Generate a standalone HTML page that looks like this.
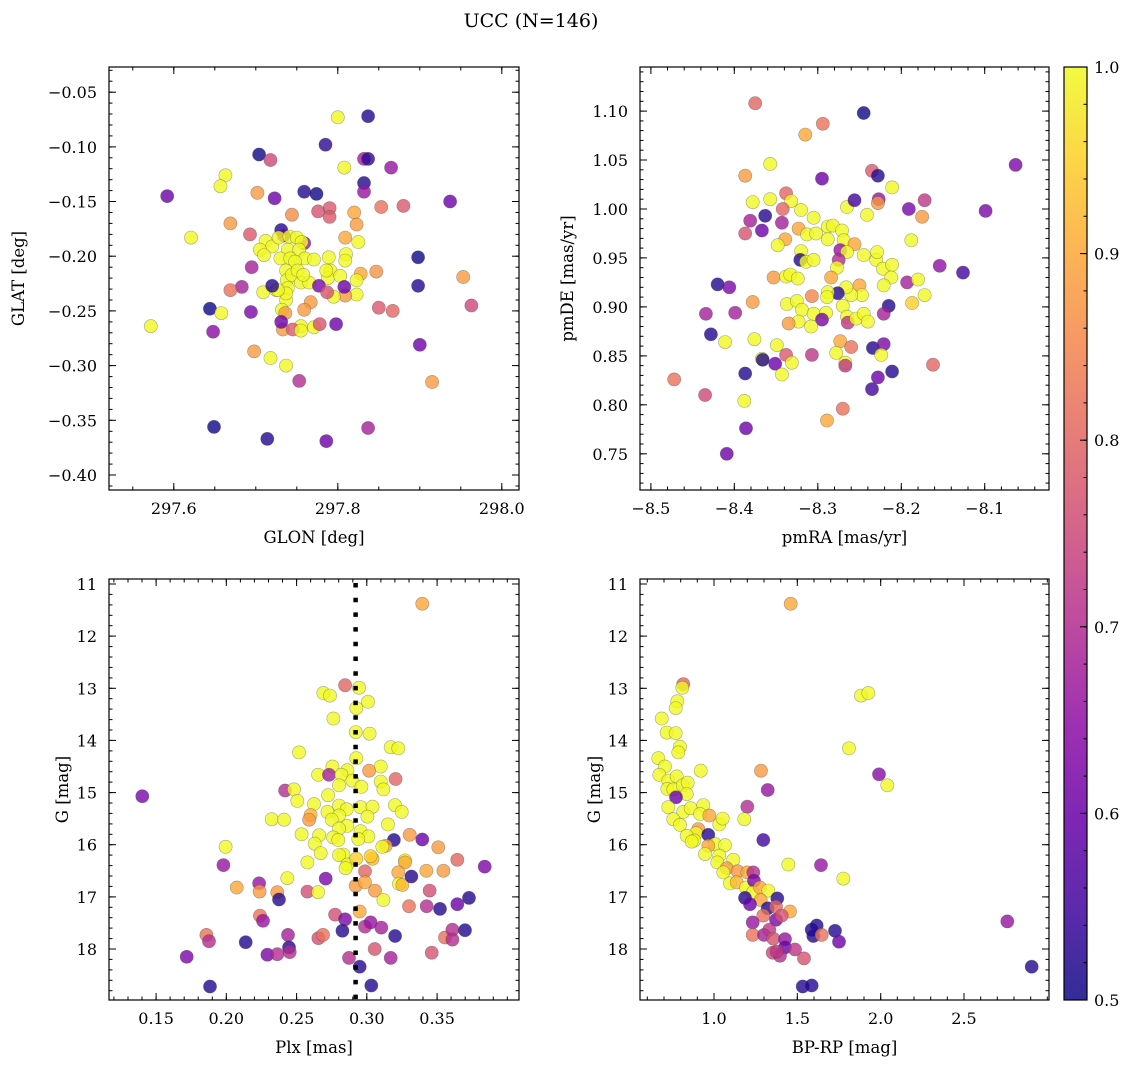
<!DOCTYPE html>
<html><head><meta charset="utf-8">
<style>
html,body{margin:0;padding:0;background:#fff;}
svg{display:block;font-family:"DejaVu Serif","Liberation Serif",serif;}
</style></head>
<body>
<svg id="fig" width="1136" height="1067" viewBox="0 0 1136 1067" xmlns="http://www.w3.org/2000/svg">
<defs>
<linearGradient id="plasma" x1="0" y1="1" x2="0" y2="0">
<stop offset="0" stop-color="#0d0887"/><stop offset="0.1" stop-color="#41049d"/><stop offset="0.2" stop-color="#6a00a8"/><stop offset="0.3" stop-color="#8f0da4"/><stop offset="0.4" stop-color="#b12a90"/><stop offset="0.5" stop-color="#cc4778"/><stop offset="0.6" stop-color="#e16462"/><stop offset="0.7" stop-color="#f2844b"/><stop offset="0.8" stop-color="#fca636"/><stop offset="0.9" stop-color="#fcce25"/><stop offset="1" stop-color="#f0f921"/>
</linearGradient>
</defs>
<text x="531" y="27" font-size="19" text-anchor="middle">UCC (N=146)</text>
<g id="colorbar">
<rect x="1064" y="67" width="23" height="933" fill="url(#plasma)" opacity="0.85"/>
<rect x="1064" y="67" width="23" height="933" fill="none" stroke="#000" stroke-width="1.2"/>
</g>
</svg>
<script>
// ---------- Panel 1: GLON vs GLAT ----------
const p1_glon = [297.800,297.837,297.785,297.704,297.718,297.832,297.837,297.808,297.865,297.832,297.832,297.663,297.657,297.592,297.702,297.723,297.759,297.774,297.937,297.853,297.880,297.790,297.790,297.744,297.820,297.823,297.776,297.669,297.621,297.693,297.731,297.734,297.759,297.809,297.825,
297.712,297.720,297.705,297.710,297.728,297.741,297.750,297.756,297.739,297.753,297.760,297.730,297.742,297.748,297.771,297.789,297.810,297.809,297.791,297.788,297.737,297.738,297.744,297.739,297.737,297.732,297.737,297.786,297.803,297.725,297.755,297.765,297.751,297.758,297.727,297.709,297.823,297.809,297.795,297.755,297.771,297.778,297.733,297.745,297.755,297.798,297.736,297.731,297.767,297.759,297.828,297.823,297.847,297.808,297.777,297.787,297.720,297.695,
297.683,297.669,297.644,297.658,297.694,297.648,297.698,297.718,297.737,297.753,297.915,297.867,297.850,297.898,297.898,297.953,297.963,297.900,297.649,297.714,297.786,297.837,297.572];
const p1_glat = [-0.073,-0.072,-0.098,-0.107,-0.112,-0.111,-0.111,-0.119,-0.119,-0.133,-0.141,-0.126,-0.136,-0.145,-0.142,-0.147,-0.141,-0.143,-0.150,-0.155,-0.154,-0.156,-0.164,-0.162,-0.160,-0.171,-0.159,-0.170,-0.183,-0.180,-0.176,-0.181,-0.188,-0.183,-0.187,
-0.186,-0.191,-0.194,-0.199,-0.183,-0.182,-0.183,-0.187,-0.194,-0.194,-0.202,-0.202,-0.202,-0.205,-0.203,-0.201,-0.198,-0.204,-0.213,-0.220,-0.213,-0.222,-0.217,-0.229,-0.240,-0.249,-0.234,-0.213,-0.218,-0.231,-0.224,-0.224,-0.213,-0.217,-0.231,-0.233,-0.235,-0.236,-0.237,-0.264,-0.265,-0.262,-0.267,-0.267,-0.268,-0.262,-0.252,-0.260,-0.242,-0.249,-0.216,-0.222,-0.214,-0.228,-0.227,-0.233,-0.227,-0.210,
-0.228,-0.231,-0.248,-0.252,-0.251,-0.269,-0.287,-0.293,-0.300,-0.314,-0.315,-0.250,-0.247,-0.201,-0.227,-0.219,-0.245,-0.281,-0.356,-0.367,-0.369,-0.357,-0.264];
const p1_prob = [1.0,0.52,0.53,0.5,0.75,0.68,0.53,1.0,0.66,0.52,0.66,1.0,1.0,0.6,0.88,0.6,0.52,0.5,0.6,0.82,0.78,0.78,0.78,0.86,0.9,0.88,0.77,0.88,1.0,0.78,0.52,0.6,0.66,0.9,1.0,
1,1,1,1,1,1,1,1,1,1,1,1,1,1,1,1,1,1,1,1,1,1,1,1,1,1,1,1,1,1,1,1,1,1,1,1,1,0.88,1,1,1,0.77,0.88,0.78,1,0.6,0.88,0.6,0.88,0.88,0.9,1,0.87,0.6,0.62,0.77,0.52,0.68,
0.68,0.82,0.5,1.0,0.62,0.64,0.88,1.0,1.0,0.7,0.88,0.8,0.78,0.5,0.52,0.88,0.75,0.6,0.5,0.52,0.6,0.68,1.0];

// ---------- Panel 2: pmRA vs pmDE ----------
const p2_pmra = [-8.375,-8.245,-8.294,-8.315,-8.063,-8.357,-8.387,-8.295,-8.235,-8.228,-8.211,-8.338,-8.378,-8.357,-8.332,-8.320,-8.342,-8.363,-8.381,-8.367,-8.387,-8.343,-8.305,-8.265,-8.256,-8.227,-8.228,-8.241,-8.191,-8.172,-8.175,-8.099,-8.323,-8.313,-8.302,-8.288,-8.282,-8.271,-8.288,-8.269,-8.256,-8.273,-8.265,-8.339,-8.348,-8.320,-8.321,-8.314,-8.305,-8.275,-8.245,-8.230,-8.229,-8.188,-8.222,-8.211,-8.212,-8.221,-8.277,-8.284,-8.353,-8.338,-8.333,-8.324,-8.420,-8.406,-8.154,-8.126,-8.193,-8.180,-8.172,-8.187,-8.250,-8.247,-8.260,-8.266,-8.276,-8.288,-8.289,-8.307,-8.378,-8.337,-8.325,-8.319,-8.215,-8.221,-8.270,-8.305,-8.290,-8.295,-8.323,-8.308,-8.335,-8.265,-8.264,-8.254,-8.245,-8.240,-8.434,-8.399,-8.428,-8.411,-8.376,-8.349,-8.273,-8.260,-8.234,-8.221,-8.224,-8.278,-8.307,-8.338,-8.367,-8.366,-8.351,-8.331,-8.267,-8.267,-8.162,-8.343,-8.387,-8.211,-8.228,-8.235,-8.472,-8.435,-8.388,-8.270,-8.289,-8.386,-8.409];
const p2_pmde = [1.108,1.098,1.087,1.076,1.045,1.046,1.034,1.031,1.039,1.034,1.022,1.016,1.007,1.010,1.008,0.999,1.000,0.993,0.988,0.978,0.975,0.986,0.991,1.002,1.009,1.010,1.006,0.994,1.000,1.009,0.992,0.998,0.980,0.974,0.975,0.982,0.983,0.978,0.969,0.968,0.964,0.958,0.956,0.969,0.963,0.957,0.948,0.946,0.948,0.948,0.953,0.948,0.956,0.968,0.939,0.943,0.930,0.922,0.940,0.930,0.930,0.931,0.933,0.929,0.923,0.920,0.942,0.935,0.925,0.928,0.912,0.904,0.922,0.912,0.912,0.920,0.914,0.915,0.910,0.911,0.905,0.903,0.906,0.897,0.901,0.893,0.901,0.893,0.894,0.887,0.885,0.880,0.883,0.890,0.884,0.888,0.893,0.885,0.893,0.894,0.872,0.864,0.867,0.861,0.865,0.859,0.858,0.862,0.851,0.853,0.851,0.851,0.847,0.846,0.842,0.843,0.843,0.840,0.841,0.831,0.832,0.834,0.828,0.816,0.826,0.810,0.804,0.796,0.784,0.776,0.750];
const p2_prob = [0.8,0.5,0.82,0.9,0.62,1.0,0.88,0.6,0.78,0.52,1.0,0.8,1.0,1.0,1.0,1.0,0.8,0.52,0.68,0.6,0.77,0.68,1.0,1.0,0.55,0.66,0.88,1.0,0.62,0.72,0.88,0.62,0.9,1.0,1.0,1.0,1.0,1.0,1.0,1.0,0.9,0.66,1.0,0.9,1.0,1.0,0.52,1.0,1.0,0.7,1.0,1.0,1.0,1.0,1.0,1.0,1.0,1.0,1.0,0.9,0.88,1.0,1.0,1.0,0.52,0.62,0.65,0.55,0.68,1.0,1.0,0.95,0.9,1.0,1.0,1.0,0.52,1.0,1.0,0.85,0.88,1.0,1.0,1.0,0.52,0.68,1.0,1.0,1.0,0.62,1.0,1.0,0.88,1.0,0.72,1.0,1.0,1.0,0.68,0.68,0.52,1.0,1.0,1.0,0.9,0.82,0.52,0.62,1.0,1.0,0.72,0.78,1.0,0.52,0.6,1.0,1.0,0.72,0.8,1.0,0.52,0.52,0.6,0.55,0.82,0.75,1.0,0.82,0.9,0.6,0.6];

// ---------- Panel 3: Plx vs G ----------
const p3_plx = [0.3395,0.2845,0.2944,0.2690,0.2738,0.3008,0.2925,0.2762,0.2921,0.3020,0.3170,0.3224,0.2517,0.2925,0.2755,0.2861,0.3099,0.2653,0.2731,0.3016,0.2819,0.2802,0.2897,0.2961,0.3099,0.3118,0.3205,0.2418,0.2482,0.2505,0.2724,0.2624,0.2600,0.2589,
0.2720,0.2802,0.2857,0.2802,0.2750,0.2861,0.2802,0.2956,0.3040,0.3004,0.2956,0.3011,0.2939,0.3200,0.3248,0.3150,0.2323,0.2411,0.2536,0.2660,0.2629,0.2672,0.2760,0.2797,0.2833,0.2802,0.2861,0.2849,0.2925,0.3040,0.3027,
0.3193,0.3305,0.3395,0.3509,0.3134,0.3110,0.3272,0.3272,0.3644,0.3839,0.1995,0.1979,0.2577,0.2707,0.2987,0.3224,0.3229,0.3253,0.3317,0.3424,0.3545,0.2434,0.2074,0.2233,0.2237,0.2363,0.2375,0.2577,0.2653,0.2921,0.2987,0.3058,0.3118,0.3447,0.3300,0.3426,0.3521,0.3644,0.3727,0.2949,0.2240,0.2261,0.2774,0.2845,0.2826,0.2987,0.3027,0.3103,0.3201,0.1858,0.1877,0.2138,0.2439,0.2446,0.2451,0.2292,0.2363,0.2655,0.2688,0.2873,0.2949,0.3056,0.3170,0.3462,0.3556,0.3609,0.3609,0.3699,0.1718,0.1884,0.3032,0.1402];
const p3_g = [11.38,12.94,12.99,13.09,13.14,13.26,13.38,13.58,13.84,13.87,14.13,14.15,14.23,14.34,14.50,14.57,14.50,14.66,14.66,14.58,14.66,14.86,14.77,14.89,14.79,14.94,14.74,14.96,14.94,15.16,15.05,15.22,15.43,15.52,
15.37,15.25,15.32,15.44,15.52,15.64,15.69,15.28,15.27,15.46,15.74,15.84,15.89,15.24,15.37,15.61,15.51,15.52,15.80,15.82,15.98,16.16,15.86,15.91,16.19,16.20,16.38,16.45,16.27,16.27,16.22,
15.91,15.81,15.90,16.05,16.02,16.04,16.30,16.34,16.29,16.42,16.04,16.39,16.34,16.65,16.51,16.53,16.75,16.77,16.61,16.50,16.50,16.64,16.82,16.74,16.90,16.91,17.05,16.90,16.91,16.79,16.72,16.88,17.06,16.88,17.18,17.18,17.23,17.14,17.02,17.28,17.36,17.46,17.34,17.43,17.65,17.57,17.49,17.59,17.75,17.73,17.85,17.87,17.73,17.97,18.06,18.11,18.10,17.79,17.73,18.17,18.34,18.00,18.17,18.07,17.78,17.63,17.82,17.64,18.15,18.72,18.70,15.07];
const p3_prob = [0.9,0.8,1,1,1,1,1,1,1,1,1,1,1,1,1,1,1,1,0.68,0.88,1,1,1,1,1,1,0.8,0.7,1,1,1,1,0.92,0.88,
1,1,1,1,1,1,1,1,1,1,1,1,1,1,1,1,1,1,1,1,1,1,1,1,1,1,1,1,0.95,0.92,0.95,
0.52,0.88,0.6,0.88,0.9,1,1,0.9,0.8,0.62,1,0.66,1,0.62,0.8,0.9,1,0.92,0.52,0.9,0.88,1,0.9,0.66,0.88,0.88,0.52,0.76,1,0.88,0.9,0.88,1,0.76,0.82,0.7,0.52,0.6,0.52,0.9,0.82,0.66,0.76,0.62,0.52,0.7,0.66,0.68,0.52,0.82,0.7,0.52,0.68,0.52,0.7,0.62,0.7,0.76,0.82,0.7,0.52,0.77,0.68,0.77,0.82,0.7,0.7,0.52,0.62,0.52,0.52,0.62];

// ---------- Panel 4: BP-RP vs G ----------
const p4_bprp = [1.460,0.816,0.810,0.780,0.770,1.882,1.926,0.686,0.716,0.770,0.796,0.786,1.810,0.666,0.706,0.920,1.282,1.990,2.040,1.322,
0.672,0.726,0.776,0.720,0.756,0.812,0.842,0.836,0.772,0.726,0.816,0.860,0.936,0.916,0.972,0.756,0.796,1.032,1.052,0.906,0.892,0.966,0.836,0.882,0.866,1.006,0.966,1.066,0.946,1.032,1.020,1.116,1.076,1.056,1.142,1.200,1.236,1.096,1.136,1.192,1.240,1.232,1.276,1.326,1.280,
1.200,1.182,1.296,1.446,1.642,1.776,1.186,1.216,1.380,1.322,1.372,1.456,1.296,1.232,1.372,1.406,1.232,1.300,1.332,1.356,1.426,1.426,1.352,1.396,1.376,1.486,1.540,1.586,1.616,1.596,1.646,1.726,1.750,2.760,2.906,1.532,1.586];
const p4_g = [11.38,12.92,12.99,13.25,13.38,13.14,13.09,13.58,13.85,13.86,14.12,14.23,14.15,14.34,14.50,14.58,14.58,14.65,14.86,14.95,
14.66,14.77,14.69,14.93,14.94,14.86,14.81,15.03,15.09,15.28,15.37,15.30,15.24,15.41,15.44,15.51,15.62,15.61,15.50,15.70,15.78,15.81,15.83,15.92,15.94,15.99,16.02,16.01,16.18,16.21,16.34,16.29,16.45,16.53,16.51,16.53,16.53,16.74,16.72,16.82,16.69,16.92,16.82,16.88,17.06,
15.27,15.51,15.91,16.38,16.39,16.65,17.02,17.14,17.03,17.22,17.19,17.28,17.36,17.49,17.44,17.36,17.73,17.73,17.63,17.80,17.81,17.97,18.07,18.13,18.05,18.01,18.18,17.63,17.55,17.75,17.73,17.65,17.86,17.47,18.34,18.72,18.70];
const p4_prob = [0.9,0.8,1,1,1,1,1,1,1,1,1,1,1,1,1,1,0.88,0.64,1,0.66,
1,1,1,1,1,1,1,1,0.6,1,1,1,1,1,0.9,1,1,1,1,0.88,1,0.52,1,1,1,1,0.9,1,1,1,1,1,0.88,1,0.88,0.9,0.7,1,0.92,1,0.62,1,0.9,1,0.9,
0.7,1,0.55,1,0.66,1,0.52,0.6,0.52,0.52,0.8,0.9,0.82,0.66,0.62,0.77,0.82,0.68,0.72,0.77,0.66,0.6,0.75,0.7,0.72,0.72,0.77,0.52,0.52,0.52,0.82,0.52,0.6,0.66,0.52,0.52,0.52];

// ---------- axis tick labels ----------
const p1_xticks = [297.6,297.8,298.0];
const p1_yticks = [-0.05,-0.10,-0.15,-0.20,-0.25,-0.30,-0.35,-0.40];
const p2_xticks = [-8.5,-8.4,-8.3,-8.2,-8.1];
const p2_yticks = [0.75,0.80,0.85,0.90,0.95,1.00,1.05,1.10];
const p3_xticks = [0.15,0.20,0.25,0.30,0.35];
const gticks = [11,12,13,14,15,16,17,18];
const p4_xticks = [1.0,1.5,2.0,2.5];
const cbar_ticks = [0.5,0.6,0.7,0.8,0.9,1.0];
const plx_ref = 0.292;

const NS = "http://www.w3.org/2000/svg";
const svg = document.getElementById('fig');
function mk(tag, attrs, parent){
  const e = document.createElementNS(NS, tag);
  for (const k in attrs) e.setAttribute(k, attrs[k]);
  (parent||svg).appendChild(e);
  return e;
}
const stops = [[13,8,135],[65,4,157],[106,0,168],[143,13,164],[177,42,144],[204,71,120],[225,100,98],[242,132,75],[252,166,54],[252,206,37],[240,249,33]];
function plasma(v){
  let t = Math.max(0, Math.min(1, (v-0.5)/0.5))*10;
  const i = Math.min(9, Math.floor(t)); const f = t - i;
  const a = stops[i], b = stops[i+1];
  return 'rgb(' + [0,1,2].map(k=>Math.round(a[k]+(b[k]-a[k])*f)).join(',') + ')';
}
function fmt(v, d){ const s = Math.abs(v).toFixed(d); return (v<0?'\u2212':'') + s; }

function panel(name, box, xr, yr, xt, yt, xd, yd, xminor, yminor, xs, ys, ps, xlabel, ylabel, ylabx){
  const g = mk('g', {});
  
  
  const [L,T,R,B] = box;
  const sx = v => L + (v - xr[0])/(xr[1]-xr[0])*(R-L);
  const sy = v => T + (v - yr[0])/(yr[1]-yr[0])*(B-T);
  const pg = mk('g', {}, g);
  
  
  for (let i=0;i<xs.length;i++){
    const c = mk('circle', {cx: sx(xs[i]).toFixed(1), cy: sy(ys[i]).toFixed(1), r: 6.6, fill: plasma(ps[i]), 'fill-opacity': 0.8, stroke: '#444', 'stroke-opacity': 0.45, 'stroke-width': 0.6}, pg);
    
    
  }
  const tg = mk('g', {stroke:'#000', 'stroke-width':1}, g);
  
  
  const xlo = Math.min(xr[0],xr[1]), xhi = Math.max(xr[0],xr[1]);
  const ylo = Math.min(yr[0],yr[1]), yhi = Math.max(yr[0],yr[1]);
  for (let v=Math.ceil(xlo/xminor)*xminor; v<=xhi; v+=xminor){
    const x = sx(v).toFixed(1);
    mk('line',{x1:x,x2:x,y1:B,y2:B-3.5},tg); mk('line',{x1:x,x2:x,y1:T,y2:T+3.5},tg);
  }
  for (let v=Math.ceil(ylo/yminor)*yminor; v<=yhi; v+=yminor){
    const y = sy(v).toFixed(1);
    mk('line',{x1:L,x2:L+3.5,y1:y,y2:y},tg); mk('line',{x1:R,x2:R-3.5,y1:y,y2:y},tg);
  }
  xt.forEach(v=>{
    const x = sx(v).toFixed(1);
    mk('line',{x1:x,x2:x,y1:B,y2:B-7},tg); mk('line',{x1:x,x2:x,y1:T,y2:T+7},tg);
    const t = mk('text',{x:x, y:B+24, 'font-size':16, 'text-anchor':'middle'}, g);
    t.textContent = fmt(v, xd);
    
    
  });
  yt.forEach(v=>{
    const y = sy(v);
    mk('line',{x1:L,x2:L+7,y1:y.toFixed(1),y2:y.toFixed(1)},tg); mk('line',{x1:R,x2:R-7,y1:y.toFixed(1),y2:y.toFixed(1)},tg);
    const t = mk('text',{x:L-12, y:(y+6).toFixed(1), 'font-size':16, 'text-anchor':'end'}, g);
    t.textContent = fmt(v, yd);
    
    
  });
  const fr = mk('rect',{x:L,y:T,width:R-L,height:B-T,fill:'none',stroke:'#000','stroke-width':1.2}, g);
  
  
  const xl = mk('text',{x:(L+R)/2, y:B+53, 'font-size':16.5, 'text-anchor':'middle'}, g);
  xl.textContent = xlabel;
  
  
  const ylx = ylabx, ylyc = (T+B)/2;
  const yl = mk('text',{x:ylx, y:ylyc, 'font-size':16.5, 'text-anchor':'middle', transform:'rotate(-90 '+ylx+' '+ylyc+')'}, g);
  yl.textContent = ylabel;
  
  
  return {sx, sy, g};
}

panel('glon-glat-panel',[109,67,519,490],[297.521,298.021],[-0.027,-0.4137],p1_xticks,p1_yticks,1,2,0.05,0.01,p1_glon,p1_glat,p1_prob,'GLON [deg]','GLAT [deg]',24);
panel('pm-panel',[640,67,1049,490],[-8.513,-8.023],[1.145,0.713],p2_xticks,p2_yticks,1,2,0.02,0.01,p2_pmra,p2_pmde,p2_prob,'pmRA [mas/yr]','pmDE [mas/yr]',573);
const P3 = panel('plx-g-panel',[109,579,519,1000],[0.1165,0.4083],[10.904,18.978],p3_xticks,gticks,2,0,0.01,0.2,p3_plx,p3_g,p3_prob,'Plx [mas]','G [mag]',68);
panel('cmd-panel',[640,579,1049,1000],[0.556,3.01],[10.904,18.978],p4_xticks,gticks,1,0,0.1,0.2,p4_bprp,p4_g,p4_prob,'BP-RP [mag]','G [mag]',600);

const rx = P3.sx(plx_ref).toFixed(1);
const rl = mk('line',{x1:rx,x2:rx,y1:583,y2:1000,stroke:'#000','stroke-width':4.5,'stroke-dasharray':'4.5 10.2'}, P3.g);



const cb = document.getElementById('colorbar');
const cy = v => 1000 - (v-0.5)/0.5*933;
for (let v=0.5; v<=1.0001; v+=0.02){
  const y = cy(v).toFixed(1);
  mk('line',{x1:1087,x2:1083.5,y1:y,y2:y,stroke:'#000','stroke-width':1},cb);
}
cbar_ticks.forEach(v=>{
  const y = cy(v);
  mk('line',{x1:1087,x2:1080,y1:y.toFixed(1),y2:y.toFixed(1),stroke:'#000','stroke-width':1},cb);
  const t = mk('text',{x:1094, y:(y+6).toFixed(1), 'font-size':16}, cb);
  t.textContent = v.toFixed(1);
  
  
});
</script>
</body></html>
